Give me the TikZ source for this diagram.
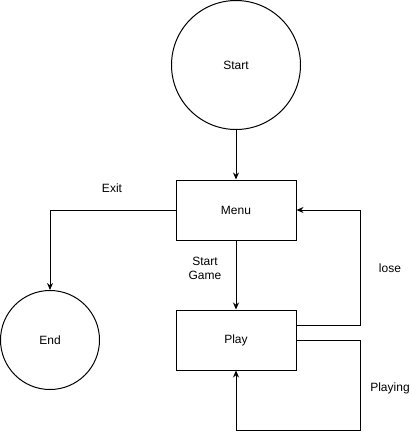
\documentclass[tikz,border=0pt]{standalone}
\usepackage{fontspec}
\setmainfont{Liberation Sans}
\usetikzlibrary{arrows.meta}
\tikzset{state/.style={draw,circle,inner sep=0pt},
  box/.style={draw,minimum width=120pt,minimum height=60pt,inner sep=0pt},
  flow/.style={-{Stealth[length=7pt,width=6pt]}}}
\begin{document}
\begin{tikzpicture}[x=1pt,y=-1pt,line width=1pt,font=\fontsize{12}{14}\selectfont]
  \useasboundingbox (0,0) rectangle (411,439);
  \node[state,minimum size=129pt] (start) at (236,65) {Start};
  \node[box] (menu) at (236,210) {Menu};
  \node[box] (play) at (236,340) {Play};
  \node[state,minimum size=99pt] (end) at (50,340) {End};
  \coordinate (loseR) at (360,325);
  \coordinate (loopC) at (360,430);
  \draw[flow] (start) -- (menu);
  \draw[flow] (menu) -- (play);
  \draw[flow] (menu.west) -| (end);
  \draw[flow] (play.east |- loseR) -- (loseR) |- (menu.east);
  \draw[flow] (play.east) -| (loopC) -| (play.south);
  \node (exitlbl) at (112,188) {Exit};
  \node[align=center] (gamelbl) at (205,268) {Start\\Game};
  \node (loselbl) at (390,268) {lose};
  \node (playlbl) at (390,388) {Playing};
\end{tikzpicture}
\end{document}
